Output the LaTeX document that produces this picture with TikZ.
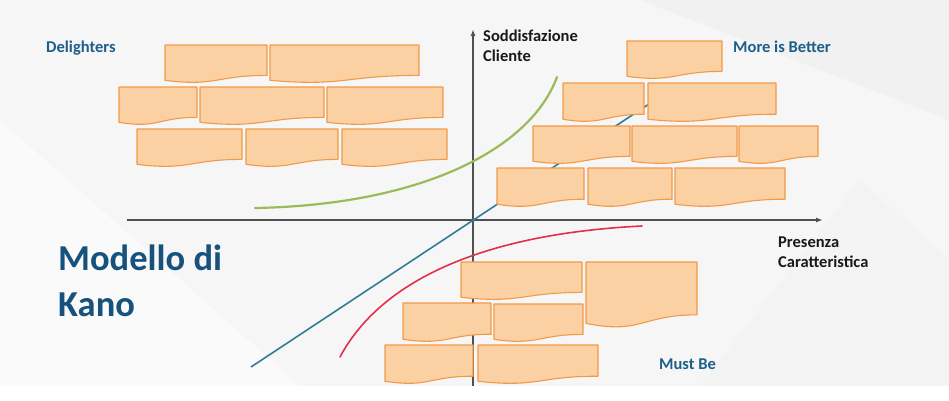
\documentclass[tikz,border=0pt]{standalone}
\usepackage{fontspec}
\setmainfont{Carlito}
\usetikzlibrary{arrows.meta}
\definecolor{boxfill}{HTML}{FBD0A2}
\definecolor{boxline}{HTML}{F29A48}
\definecolor{labelblue}{HTML}{1D5F8A}
\definecolor{titleblue}{HTML}{17527C}
\definecolor{axisgray}{HTML}{505050}
\definecolor{diagblue}{HTML}{2F7E99}
\definecolor{greenc}{HTML}{9BBB59}
\definecolor{redc}{HTML}{E0314A}
\definecolor{bgc}{HTML}{F6F6F6}
\definecolor{bgd}{HTML}{EEEEEE}
\newcommand\docbox[4]{%
  \draw[kbox] (#1,#2) -- (#3,#2) -- (#3,{#2+0.80*(#4-#2)})
    .. controls ({(#1+#3)/2},{#2+0.80*(#4-#2)}) and ({(#1+#3)/2},{#2+1.10*(#4-#2)})
    .. (#1,{#2+0.93*(#4-#2)}) -- cycle;}
\begin{document}
\begin{tikzpicture}[x=1pt,y=-1pt,
  kbox/.style={fill=boxfill,draw=boxline,line width=1.1pt,line join=round},
  axisline/.style={draw=axisgray,line width=1.8pt,-{Latex[length=7pt,width=5pt]}},
  lbl/.style={font=\bfseries\fontsize{16.5}{20}\selectfont,inner sep=0pt,anchor=north west,align=left},
  bluelbl/.style={lbl,text=labelblue},
  blacklbl/.style={lbl,text=black!90}]
\useasboundingbox (0,0) rectangle (949,400);
\fill[white] (0,0) rectangle (949,400);
\fill[bgc] (0,0) rectangle (949,386);
\fill[bgd,opacity=0.5] (640,0) -- (949,0) -- (949,120) -- cycle;
\fill[bgd,opacity=0.35] (700,386) -- (860,180) -- (949,260) -- (949,386) -- cycle;
\fill[white,opacity=0.45] (0,120) -- (300,386) -- (0,386) -- cycle;
% axes
\coordinate (o) at (473,220);
\coordinate (ybot) at (473,386);
\coordinate (ytop) at (473,29);
\coordinate (xleft) at (127,220);
\coordinate (xright) at (823,220);
\draw[draw=axisgray,line width=1.8pt] (ybot) -- (o);
\draw[axisline] (o) -- (ytop);
\draw[axisline] (xleft) -- (xright);
% curves
\coordinate (b0) at (251,367);
\coordinate (b1) at (655,100);
\draw[diagblue,line width=1.6pt] (b0) -- (b1);
\coordinate (g0) at (255,208);
\coordinate (g1) at (557,77);
\draw[greenc,line width=2.2pt,line cap=round] (g0) .. controls (420,205) and (530,150) .. (g1);
\coordinate (r0) at (340,357);
\coordinate (r1) at (642,226);
\draw[redc,line width=1.6pt,line cap=round] (r0) .. controls (380,282) and (480,234) .. (r1);
% Delighters bricks
\docbox{165}{45}{267}{83}
\docbox{270}{45}{419}{83}
\docbox{119}{87}{197}{125}
\docbox{200}{87}{324}{125}
\docbox{327}{87}{443}{125}
\docbox{137}{129}{242}{167}
\docbox{246}{129}{338}{167}
\docbox{342}{129}{447}{167}
% More is Better bricks
\docbox{627}{41}{722}{79}
\docbox{563}{83}{644}{122}
\docbox{648}{83}{776}{122}
\docbox{533}{126}{630}{164}
\docbox{632}{126}{737}{164}
\docbox{739}{126}{818}{164}
\docbox{497}{168}{584}{207}
\docbox{588}{168}{672}{207}
\docbox{675}{168}{785}{207}
% Must Be bricks
\docbox{461}{262}{582}{300}
\docbox{586}{262}{697}{328}
\docbox{403}{303}{491}{342}
\docbox{494}{304}{583}{342}
\docbox{385}{345}{473}{384}
\docbox{478}{345}{598}{384}
% labels
\node[bluelbl] (del) at (46,41) {Delighters};
\node[blacklbl] (sod) at (483,30) {Soddisfazione\\Cliente};
\node[bluelbl] (mib) at (733,41) {More is Better};
\node[blacklbl] (pres) at (778,237) {Presenza\\Caratteristica};
\node[bluelbl] (must) at (659,359) {Must Be};
\node[inner sep=0pt,anchor=north west,align=left,text=titleblue,
  font=\bfseries\fontsize{36.5}{46}\selectfont] (title) at (58,245) {Modello di\\Kano};
\end{tikzpicture}
\end{document}
